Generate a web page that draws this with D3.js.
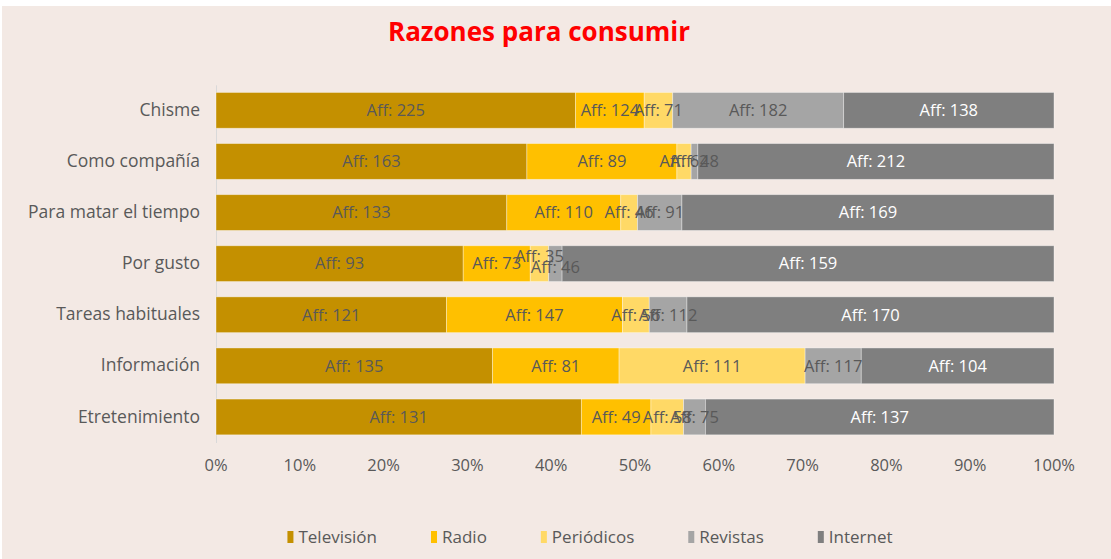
<!DOCTYPE html>
<html>
<head>
<meta charset="utf-8">
<title>Razones para consumir</title>
<script src="https://d3js.org/d3.v7.min.js"></script>
<style>
  body { margin: 0; background: #fff; }
  text { font-family: "Open Sans", sans-serif; }
</style>
</head>
<body>
<div id="chart"></div>
<script>
// categories, top to bottom
const categories = ["Chisme", "Como compañía", "Para matar el tiempo", "Por gusto",
  "Tareas habituales", "Información", "Etretenimiento"];
const seriesNames = ["Televisión", "Radio", "Periódicos", "Revistas", "Internet"];
const colors = ["#C49000", "#FFC000", "#FFD966", "#A5A5A5", "#7F7F7F"];

// share of each bar (percent)
const television = [42.9, 37.1, 34.7, 29.5, 27.5, 33.0, 43.6];
const radio      = [8.2, 17.9, 13.6, 8.0, 21.0, 15.1, 8.3];
const periodicos = [3.4, 1.7, 2.0, 2.2, 3.2, 22.2, 3.9];
const revistas   = [20.4, 0.8, 5.3, 1.6, 4.5, 6.7, 2.6];
const internet   = [25.1, 42.5, 44.4, 58.7, 43.8, 23.0, 41.6];

// "Aff" counts shown as data labels
const affTelevision = [225, 163, 133, 93, 121, 135, 131];
const affRadio      = [124, 89, 110, 73, 147, 81, 49];
const affPeriodicos = [71, 62, 46, 35, 56, 111, 58];
const affRevistas   = [182, 48, 91, 46, 112, 117, 75];
const affInternet   = [138, 212, 169, 159, 170, 104, 137];

const tickLabels = ["0%", "10%", "20%", "30%", "40%", "50%", "60%", "70%", "80%", "90%", "100%"];

const values = [television, radio, periodicos, revistas, internet];
const labels = [affTelevision, affRadio, affPeriodicos, affRevistas, affInternet];

const W = 1111, H = 559;
const svg = d3.select("#chart").append("svg")
  .attr("width", W).attr("height", H);

svg.append("rect").attr("x", 2).attr("y", 6).attr("width", W - 2).attr("height", H - 6)
  .attr("fill", "#F3E9E4");

svg.append("text")
  .attr("x", 539).attr("y", 41)
  .attr("text-anchor", "middle")
  .attr("fill", "#FF0000")
  .attr("font-size", 26).attr("font-weight", "bold")
  .text("Razones para consumir");

const table = categories.map((c, i) => {
  const row = { cat: c };
  seriesNames.forEach((s, j) => row[s] = values[j][i]);
  return row;
});
const stacked = d3.stack().keys(seriesNames).offset(d3.stackOffsetExpand)(table);

const x = d3.scaleLinear().domain([0, 1]).range([216, 1054]);
const y = d3.scaleBand().domain(categories).range([84.8, 442.5])
  .paddingInner(0.3).paddingOuter(0.15);

// value axis labels
svg.append("g").selectAll("text")
  .data(tickLabels)
  .join("text")
  .attr("x", (d, i) => x(i / 10))
  .attr("y", 471)
  .attr("text-anchor", "middle")
  .attr("fill", "#595959")
  .attr("font-size", 16.5)
  .text(d => d);

// category axis
const yAxis = svg.append("g")
  .attr("transform", "translate(216,0)")
  .call(d3.axisLeft(y).tickSize(0).tickPadding(16));
yAxis.select(".domain").attr("stroke", "#D9D9D9");
yAxis.selectAll("text")
  .attr("fill", "#595959")
  .attr("font-size", 17.5)
  .attr("font-family", "Open Sans, sans-serif");

const layers = svg.append("g").selectAll("g")
  .data(stacked)
  .join("g")
  .attr("fill", (d, i) => colors[i]);

layers.selectAll("rect")
  .data(d => d)
  .join("rect")
  .attr("x", d => x(d[0]))
  .attr("y", d => y(d.data.cat))
  .attr("width", d => x(d[1]) - x(d[0]))
  .attr("height", y.bandwidth())
  .attr("stroke", "#ffffff")
  .attr("stroke-opacity", 0.45)
  .attr("stroke-width", 0.8);

// label nudges where Excel moved overlapping labels
const nudge = { "Por gusto|Periódicos": -7, "Por gusto|Revistas": 4 };

// labels drawn after all bars so nothing hides them
const labelLayer = svg.append("g");
stacked.forEach((layer, j) => {
  labelLayer.append("g").selectAll("text")
    .data(layer)
    .join("text")
    .attr("x", d => (x(d[0]) + x(d[1])) / 2)
    .attr("y", d => y(d.data.cat) + y.bandwidth() / 2 + (nudge[d.data.cat + "|" + layer.key] || 0))
    .attr("dy", "0.35em")
    .attr("text-anchor", "middle")
    .attr("font-size", 16.5)
    .attr("fill", j === 4 ? "#ffffff" : "#595959")
    .text((d, i) => "Aff: " + labels[j][i]);
});

// legend
const legend = svg.append("g");
let lx = 0;
seriesNames.forEach((s, i) => {
  const g = legend.append("g").attr("transform", `translate(${lx},0)`);
  g.append("rect").attr("x", 0).attr("y", -6).attr("width", 6).attr("height", 12)
    .attr("fill", colors[i]);
  const t = g.append("text").attr("x", 11).attr("y", 0).attr("dy", "0.35em")
    .attr("font-size", 17).attr("fill", "#595959").text(s);
  lx += 11 + t.node().getComputedTextLength() + 54;
});
const legendWidth = lx - 54;
legend.attr("transform", `translate(${590 - legendWidth / 2},537)`);
</script>
</body>
</html>
